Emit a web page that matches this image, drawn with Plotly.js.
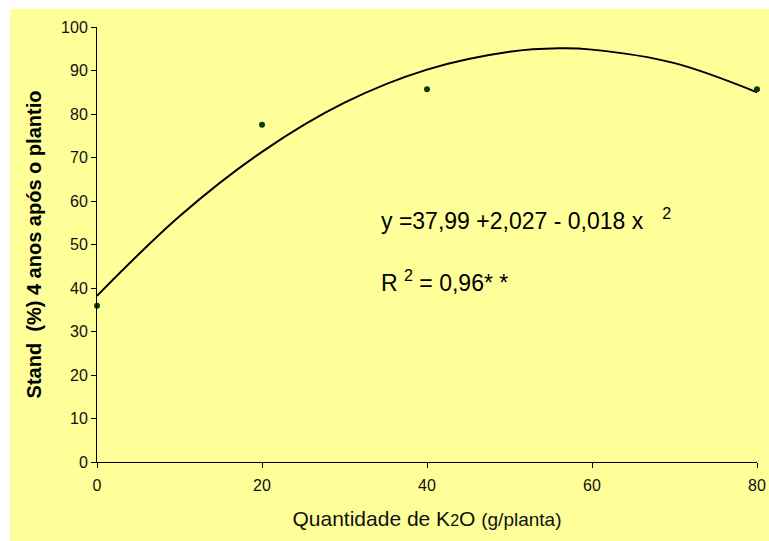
<!DOCTYPE html>
<html>
<head>
<meta charset="utf-8">
<script src="https://cdn.plot.ly/plotly-3.0.1.min.js"></script>
<style>
html,body{margin:0;padding:0;background:#ffffff;}
#chart{width:769px;height:541px;}
</style>
</head>
<body>
<div id="chart"></div>
<script>
// Observed points: K2O dose (g/planta) vs stand (%)
const doses = [0, 20, 40, 80];
const stand = [35.9, 77.5, 85.7, 85.7];

// Quadratic trend line
const trendX = [0, 10, 20, 30, 40, 50, 56, 60, 70, 80];
const trendY = [38.2, 56.5, 71.3, 82.6, 90.2, 94.3, 95.1, 94.8, 91.7, 85.0];

const xTicks = [0, 20, 40, 60, 80];
const yTicks = [0, 10, 20, 30, 40, 50, 60, 70, 80, 90, 100];

const eqText = "y =37,99 +2,027 - 0,018 x   <sup>2</sup>";
const r2Text = "R <sup>2</sup> = 0,96* *";

const font = "Arial, 'Liberation Sans', sans-serif";

const traces = [
  {
    x: trendX, y: trendY, type: 'scatter', mode: 'lines',
    line: {color: '#000000', width: 2, shape: 'spline', smoothing: 1.0},
    hoverinfo: 'skip', cliponaxis: false, showlegend: false
  },
  {
    x: doses, y: stand, type: 'scatter', mode: 'markers',
    marker: {color: '#0B3D0B', size: 6},
    cliponaxis: false, showlegend: false
  }
];

const layout = {
  width: 769, height: 541,
  margin: {l: 97, r: 12, t: 27, b: 79},
  paper_bgcolor: '#ffffff',
  plot_bgcolor: 'rgba(0,0,0,0)',
  font: {family: font, color: '#111111'},
  showlegend: false,
  xaxis: {
    range: [0, 80], tickvals: xTicks, ticktext: xTicks.map(String),
    showgrid: false, zeroline: false, showline: true, linecolor: '#000', linewidth: 1,
    ticks: 'outside', ticklen: 5, tickcolor: '#000', ticklabelstandoff: 4,
    tickfont: {size: 16, family: font, color: '#111'},
    title: {text: "Quantidade de K<span style='font-size:16px'>2</span>O <span style='font-size:19px'>(g/planta)</span>",
            font: {size: 21, family: font, color: '#111'}, standoff: 18}
  },
  yaxis: {
    range: [0, 100], tickvals: yTicks, ticktext: yTicks.map(String),
    showgrid: false, zeroline: false, showline: true, linecolor: '#000', linewidth: 1,
    ticks: 'outside', ticklen: 5, tickcolor: '#000', tickfont: {size: 16, family: font, color: '#111'},
    title: {text: "<b>Stand  (%) 4 anos após o plantio</b>", font: {size: 20, family: font, color: '#000'}, standoff: 14}
  },
  shapes: [
    {type: 'rect', xref: 'paper', yref: 'paper', x0: -0.132, x1: 1.03, y0: -0.25, y1: 1.0414,
     fillcolor: '#FFFF99', line: {width: 0}, layer: 'below'}
  ],
  annotations: [
    {x: 34.2, y: 55.9, xref: 'x', yref: 'y', text: eqText, showarrow: false,
     xanchor: 'left', yanchor: 'middle', font: {size: 23, family: font, color: '#000'}},
    {x: 34.2, y: 41.5, xref: 'x', yref: 'y', text: r2Text, showarrow: false,
     xanchor: 'left', yanchor: 'middle', font: {size: 23, family: font, color: '#000'}}
  ]
};

Plotly.newPlot('chart', traces, layout, {displayModeBar: false, staticPlot: true});
</script>
</body>
</html>
